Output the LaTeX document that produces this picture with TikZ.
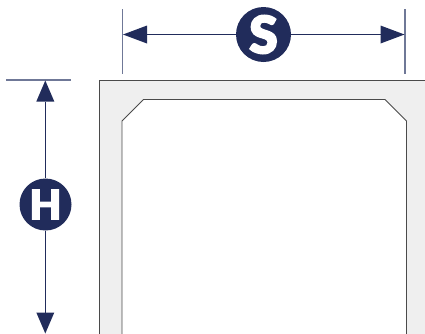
\documentclass[tikz,border=0pt]{standalone}
\usepackage{fontspec}
\setmainfont{Lato Black}[RawFeature={embolden=2.5}]
\usetikzlibrary{arrows.meta}
\definecolor{navy}{HTML}{212C5B}
\definecolor{tickc}{HTML}{6F7897}
\definecolor{wallc}{HTML}{EFEFEF}
\definecolor{edgec}{HTML}{4A4A4A}
\tikzset{
  dimline/.style={draw=navy,line width=0.9pt,-{Triangle[length=24pt,width=18pt,line width=0pt,fill=navy,color=navy]}},
  dimlineV/.style={draw=navy,line width=0.9pt,-{Triangle[length=21pt,width=18pt,line width=0pt,fill=navy,color=navy]}},
  ticks/.style={draw=tickc,line width=1.1pt},
  badge/.style={circle,fill=navy,text=white,inner sep=0pt},
  wall/.style={fill=wallc,draw=edgec,line width=0.9pt},
  hollow/.style={fill=white,draw=edgec,line width=0.9pt}
}
\begin{document}
\begin{tikzpicture}[x=1pt,y=-1pt]
\useasboundingbox (0,0) rectangle (425,333);
\path[wall] (99.5,340) -- (99.5,80) -- (430,80) -- (430,340) -- cycle;
\path[hollow] (122,340) -- (122,121) -- (143.5,99.5) -- (385,99.5) -- (406.5,121) -- (406.5,340) -- cycle;
\coordinate (sl) at (123,34.5);
\coordinate (sr) at (404.5,34.5);
\coordinate (ht) at (45.3,80.5);
\coordinate (hb) at (45.3,333.5);
\coordinate (slt) at (122.7,9);
\coordinate (slb) at (122.7,74);
\coordinate (srt) at (405,9);
\coordinate (srb) at (405,74);
\coordinate (htl) at (6,80);
\coordinate (htr) at (71,80);
\draw[ticks] (slt) -- (slb);
\draw[ticks] (srt) -- (srb);
\draw[ticks] (htl) -- (htr);
\node[badge,minimum size=55pt] (S) at (263.5,34.5) {\fontsize{52}{52}\selectfont S};
\node[badge,minimum size=52pt] (H) at (45.5,204.5) {\fontsize{41}{41}\selectfont H};
\draw[dimline] (S) -- (sl);
\draw[dimline] (S) -- (sr);
\draw[dimlineV] (H.north -| ht) -- (ht);
\draw[dimlineV] (H.south -| hb) -- (hb);
\end{tikzpicture}
\end{document}
